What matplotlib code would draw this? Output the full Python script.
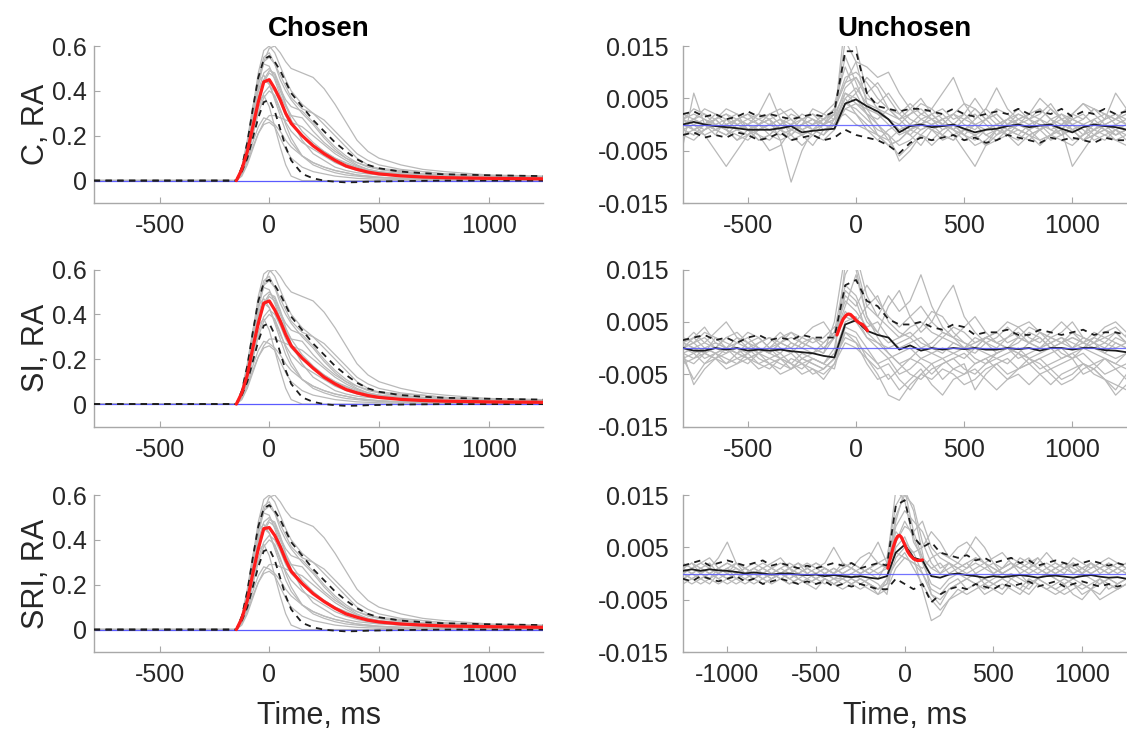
import numpy as np
import matplotlib
matplotlib.use("Agg")
import matplotlib.pyplot as plt

plt.rcParams['font.family'] = ['Liberation Sans', 'DejaVu Sans']
plt.rcParams['axes.unicode_minus'] = False

# ---------------- data ----------------
# Chosen panels: time (ms) and response amplitude
T_CHOSEN = [-800, -150, -125, -100, -75, -50, -25, 0, 25, 50,
            75, 100, 150, 200, 250, 300, 350, 400, 450, 500,
            600, 700, 800, 1000, 1250]

CHOSEN_TRACES = [
    [0, 0, 0.04, 0.13, 0.27, 0.42, 0.53, 0.59, 0.60, 0.57, 0.53, 0.50, 0.48, 0.46, 0.41, 0.34, 0.26, 0.18, 0.13, 0.10, 0.07, 0.05, 0.04, 0.025, 0.02],
    [0, 0, 0.05, 0.16, 0.32, 0.48, 0.58, 0.60, 0.57, 0.51, 0.45, 0.40, 0.34, 0.30, 0.25, 0.20, 0.15, 0.10, 0.07, 0.05, 0.035, 0.03, 0.025, 0.02, 0.015],
    [0, 0, 0.05, 0.15, 0.30, 0.45, 0.55, 0.57, 0.52, 0.45, 0.40, 0.36, 0.30, 0.25, 0.19, 0.14, 0.10, 0.07, 0.05, 0.04, 0.03, 0.025, 0.02, 0.015, 0.01],
    [0, 0, 0.06, 0.17, 0.32, 0.45, 0.52, 0.51, 0.45, 0.38, 0.33, 0.29, 0.22, 0.17, 0.13, 0.10, 0.08, 0.06, 0.045, 0.035, 0.025, 0.02, 0.015, 0.012, 0.01],
    [0, 0, 0.04, 0.13, 0.27, 0.40, 0.48, 0.50, 0.47, 0.41, 0.36, 0.33, 0.31, 0.26, 0.20, 0.15, 0.11, 0.08, 0.06, 0.05, 0.04, 0.03, 0.025, 0.02, 0.015],
    [0, 0, 0.03, 0.11, 0.24, 0.37, 0.45, 0.49, 0.48, 0.42, 0.34, 0.27, 0.18, 0.12, 0.09, 0.06, 0.045, 0.035, 0.03, 0.025, 0.02, 0.015, 0.012, 0.01, 0.008],
    [0, 0, 0.06, 0.18, 0.33, 0.44, 0.47, 0.43, 0.36, 0.29, 0.22, 0.17, 0.11, 0.08, 0.06, 0.045, 0.035, 0.025, 0.02, 0.015, 0.01, 0.008, 0.006, 0.005, 0.004],
    [0, 0, 0.05, 0.15, 0.29, 0.40, 0.45, 0.43, 0.37, 0.31, 0.26, 0.22, 0.17, 0.14, 0.11, 0.08, 0.06, 0.045, 0.035, 0.03, 0.02, 0.015, 0.012, 0.01, 0.008],
    [0, 0, 0.03, 0.10, 0.21, 0.32, 0.39, 0.42, 0.40, 0.35, 0.29, 0.25, 0.20, 0.16, 0.13, 0.10, 0.075, 0.055, 0.04, 0.03, 0.02, 0.015, 0.012, 0.01, 0.008],
    [0, 0, 0.03, 0.10, 0.20, 0.30, 0.37, 0.40, 0.38, 0.32, 0.25, 0.19, 0.11, 0.07, 0.05, 0.035, 0.025, 0.02, 0.015, 0.012, 0.01, 0.008, 0.006, 0.005, 0.004],
    [0, 0, 0.05, 0.15, 0.27, 0.35, 0.38, 0.33, 0.24, 0.15, 0.07, 0.02, 0.0, 0.0, 0.0, 0.0, 0.0, 0.0, 0.0, 0.0, 0.0, 0.0, 0.0, 0.0, 0.0],
    [0, 0, 0.03, 0.09, 0.17, 0.24, 0.28, 0.27, 0.25, 0.22, 0.18, 0.15, 0.11, 0.08, 0.06, 0.045, 0.035, 0.025, 0.02, 0.015, 0.01, 0.008, 0.006, 0.005, 0.004],
    [0, 0, 0.03, 0.08, 0.15, 0.21, 0.25, 0.26, 0.24, 0.19, 0.14, 0.10, 0.06, 0.04, 0.03, 0.02, 0.015, 0.01, 0.008, 0.006, 0.005, 0.004, 0.003, 0.003, 0.002],
    [0, 0, 0.02, 0.07, 0.14, 0.21, 0.26, 0.29, 0.29, 0.28, 0.27, 0.26, 0.24, 0.20, 0.16, 0.12, 0.09, 0.065, 0.05, 0.04, 0.03, 0.02, 0.015, 0.012, 0.01],
    [0, 0, 0.05, 0.16, 0.31, 0.45, 0.53, 0.55, 0.52, 0.47, 0.42, 0.37, 0.32, 0.30, 0.27, 0.22, 0.17, 0.12, 0.09, 0.07, 0.05, 0.04, 0.03, 0.02, 0.015],
    [0, 0, 0.04, 0.12, 0.24, 0.36, 0.44, 0.48, 0.46, 0.40, 0.34, 0.29, 0.28, 0.22, 0.17, 0.13, 0.10, 0.08, 0.065, 0.055, 0.045, 0.04, 0.03, 0.02, 0.015],
]

CHOSEN_UPPER = [0, 0, 0.06, 0.17, 0.32, 0.46, 0.54, 0.555, 0.53, 0.49, 0.44, 0.39, 0.33, 0.27, 0.22, 0.17, 0.13, 0.095, 0.07, 0.055, 0.04, 0.033, 0.028, 0.024, 0.02]
CHOSEN_LOWER = [0, 0, 0.04, 0.10, 0.19, 0.28, 0.35, 0.36, 0.31, 0.23, 0.15, 0.09, 0.03, 0.01, 0.0, -0.005, -0.008, -0.007, -0.005, -0.004, -0.002, -0.001, 0, 0, 0]

# significant-period means (from response onset onwards)
T_CHOSEN_SIG = [-150, -125, -100, -75, -50, -25, 0, 25, 50,
                75, 100, 150, 200, 250, 300, 350, 400, 450, 500,
                600, 700, 800, 1000, 1250]
CHOSEN_MEAN_C   = [0, 0.05, 0.13, 0.24, 0.35, 0.44, 0.45, 0.41, 0.36, 0.30, 0.255, 0.20, 0.155, 0.12, 0.09, 0.065, 0.05, 0.038, 0.03, 0.021, 0.016, 0.013, 0.01, 0.008]
CHOSEN_MEAN_SI  = [0, 0.05, 0.13, 0.25, 0.36, 0.45, 0.46, 0.42, 0.37, 0.31, 0.26, 0.205, 0.16, 0.12, 0.09, 0.065, 0.05, 0.038, 0.03, 0.021, 0.016, 0.013, 0.01, 0.008]
CHOSEN_MEAN_SRI = [0, 0.05, 0.13, 0.25, 0.36, 0.45, 0.455, 0.42, 0.37, 0.31, 0.26, 0.205, 0.16, 0.125, 0.095, 0.07, 0.055, 0.042, 0.034, 0.025, 0.02, 0.016, 0.013, 0.01]

# Unchosen panels: values in units of 1e-3
T_UNCH = list(range(-800, 1251, 50))      # rows 1-2
T_UNCH3 = list(range(-1250, 1251, 50))    # row 3

UNCH1_TRACES = [
    [1, 3, 2, 0, -1, 1, 2, 0, -1, -2, -1, 0, 1, 0, 2, 16, 12, 4, 2, 0, -2, -1, 1, 2, 0, -1, 1, 3, 1, -1, 0, 2, 1, -1, 0, 2, 1, 0, -1, 1, 2, 0],
    [-4, 6, 0, -2, 1, 2, -1, -3, -2, 0, 2, 1, -1, 0, 1, 20, 15, 6, 3, 1, -1, 0, 2, 1, -1, 0, 2, 0, -2, -1, 1, 0, -1, 1, 3, 1, -1, 0, 1, -1, 0, 1],
    [0, -1, -2, -1, 0, 1, -1, -2, -3, -1, 0, 2, 1, 0, 3, 9, 10, 8, 5, 3, 2, 0, -1, 0, 1, -1, -2, 0, 1, 2, 0, -1, -2, -1, 0, 1, -1, -3, -1, 0, -2, -1],
    [-1, 0, -2, -5, -8, -5, -2, 0, 1, -3, -11, -5, -1, -2, 0, 4, 6, 2, -2, -4, -3, -1, 0, -1, -2, -3, -1, -2, -4, -2, 0, -1, -2, -3, -2, 0, -1, -3, -2, -1, -2, -1],
    [2, 1, 0, -1, -2, 0, 1, 2, 6, 1, -2, 0, 3, 2, 4, 11, 6, 9, 7, 3, 1, 2, 4, 3, 1, 2, 0, -1, 1, 3, 2, 0, 1, 3, 1, -1, 2, 4, 2, 0, 1, 2],
    [-2, -1, 0, 1, -1, -3, -2, 0, 1, -1, -3, -2, -4, -1, 0, 6, 5, 2, 0, -3, -6, -4, -2, -3, -1, 0, -2, -4, -3, -1, -2, -3, -1, 0, -2, -3, -4, -2, -1, -2, -3, -2],
    [0, 1, 3, 2, 0, -1, 0, 1, 2, 0, -1, 1, 2, 1, 3, 8, 9, 5, 4, 6, 3, 1, 0, 2, 3, 1, 2, 5, 2, 0, 1, 3, 1, 2, 4, 1, 0, 1, 3, 2, 1, 3],
    [-1, -2, -1, 0, 1, 0, -1, -3, -2, 0, 1, -1, -2, -3, -1, 4, 3, 1, -1, -2, -4, -3, -1, 0, -2, -3, -1, -2, -4, -3, -2, -1, -2, -4, -2, -1, -3, -2, 0, -1, -2, -1],
    [1, 0, -1, 1, 2, 0, -1, 0, 2, 3, 1, -1, 0, 2, 1, 7, 9, 6, 8, 5, 2, 4, 2, 3, 6, 9, 4, 1, 3, 7, 3, 1, 2, 5, 3, 1, 2, 4, 3, 1, 6, 3],
    [0, -1, 0, 2, 1, -1, -2, -1, 0, 1, -1, -2, -1, 0, 2, 13, 8, 3, 0, -2, -7, -5, -2, 0, 1, -1, -3, -2, -1, 0, -1, -2, 0, 1, -1, -2, -1, 0, -2, -3, -1, 0],
    [1, 2, 1, 0, -1, 1, 2, 1, 0, -1, 0, 1, 2, 0, -1, 3, 4, 2, 1, 3, 1, -1, 0, 1, 2, 0, -1, 1, 3, 1, -1, 0, 2, 1, 0, -1, 1, 2, 0, 1, 2, 1],
    [-1, 0, 1, -1, -2, -1, 0, -2, -5, -4, -1, 0, -1, -2, 1, 5, 2, -1, -3, -1, 0, -2, -4, -1, 0, -2, -5, -8, -4, -1, -2, 0, -1, -3, -2, -1, -8, -5, -2, -1, -3, -4],
    [0, 1, 2, 1, 3, 2, 1, 0, 1, 2, 3, 1, 0, 1, 2, 6, 4, 3, 2, 1, 0, 2, 3, 1, 0, 2, 4, 3, 1, 2, 0, 1, 2, 3, 1, 0, 2, 1, 3, 2, 1, 3],
    [-2, -3, -1, 0, -1, -2, -3, -1, 0, -1, -2, -4, -2, 0, 1, 2, 0, -1, -2, -3, -1, -2, 0, -1, -3, -2, -1, 0, -2, -3, -1, -2, -3, -1, 0, -2, -1, -3, -2, 0, -1, -2],
    [0, 1, 0, -1, 0, 1, 0, -1, 0, 1, 0, -1, 0, 1, 3, 8, 12, 11, 9, 10, 6, 3, 1, 0, 1, 2, 1, 0, -1, 0, 1, 2, 1, 0, -1, 0, 1, 0, -1, 0, 1, 0],
    [1, -1, 0, 1, 2, 1, 0, 2, 1, -1, 0, -2, -1, 1, 0, 5, 7, 4, 3, 2, 1, 3, 5, 2, 0, -1, 1, 2, 0, -2, -1, 1, 0, -1, 1, 2, 0, -2, 1, 2, 0, -1],
    [-1, -2, 0, 1, -1, -3, -1, 0, -2, -3, -2, 0, 1, -1, 0, 3, 2, 0, -2, -4, -3, -1, -2, -4, -2, 0, -2, -3, -1, 0, -2, -4, -2, -1, -3, -2, 0, -1, -3, -2, -1, -3],
]
UNCH1_UPPER = [2, 2.5, 1.5, 2, 1, 1.5, 2.5, 1.5, 2, 1.5, 1, 1.5, 2, 1.5, 2.5, 14, 14, 6, 3.5, 3, 2.5, 3, 3, 2.5, 2, 3, 2, 1.5, 2, 2.5, 2, 3, 2, 2.5, 2, 3, 1.5, 2.5, 2, 3, 2, 2.5]
UNCH1_LOWER = [-2, -1.5, -2.5, -2, -2.5, -1.5, -2, -3, -2.5, -1.5, -3, -2.5, -2, -3, -2.5, -1, -2, -2.5, -3, -4, -5.5, -3.5, -2.5, -3, -2.5, -2, -3, -2.5, -3.5, -3, -2, -2.5, -3, -3.5, -2.5, -3, -2.5, -3, -3.5, -2.5, -3, -3]
UNCH1_MEAN = [0, 0.5, 0, -0.3, -0.5, -0.7, -1, -1, -1, -0.7, -0.3, -1.5, -1.2, -1, -0.8, 4, 4.8, 3.5, 2.5, 1, -1.5, -0.3, 0, -0.5, -0.3, 0, -0.8, -1.5, -1, -0.8, -0.3, 0, -0.5, -0.2, 0, -0.8, -1.5, -0.5, 0, -0.3, -0.5, -1]

UNCH2_TRACES = [
    [1, 0, -1, 2, 1, 0, -1, 1, 2, 0, -1, 1, 0, -1, 5, 18, 16, 8, 6, 10, 7, 9, 14, 8, 4, 2, 1, 0, 2, 1, 0, -1, 1, 2, 0, 1, 2, 1, 0, -1, 1, 0],
    [-2, -6, -3, -1, 0, -2, -3, -1, -2, -3, -4, -2, -3, -4, -2, 16, 15, 6, 2, -1, -3, -2, 0, -1, -2, -1, 0, -2, -3, -1, 0, -2, -1, 0, 1, -1, -2, 0, -1, -2, -3, -1],
    [0, 2, 4, 1, 0, 2, 1, -1, 0, 2, 3, 1, 2, 0, 2, 12, 10, 5, 3, 8, 11, 6, 3, 5, 9, 12, 6, 3, 1, 2, 4, 2, 1, 3, 2, 1, 0, 2, 1, 3, 4, 2],
    [-1, -2, 0, -1, -3, -2, -1, -3, -4, -2, -3, -5, -4, -6, -3, 3, 2, -2, -5, -9, -10, -7, -5, -6, -4, -5, -7, -6, -4, -3, -5, -4, -3, -5, -7, -5, -4, -3, -5, -6, -8, -5],
    [1, 3, 1, 0, 2, 1, 3, 2, 0, 1, 3, 2, 4, 5, 2, 8, 14, 6, 3, 1, 2, 4, 5, 3, 2, 4, 3, 1, 2, 3, 1, 2, 4, 3, 2, 1, 3, 2, 1, 2, 3, 1],
    [-1, 0, -2, -1, 0, -1, -2, -3, -2, -1, -3, -4, -2, -3, -4, 4, 3, 0, -3, -6, -4, -2, -3, -5, -3, -2, -4, -5, -3, -2, -3, -1, -2, -4, -3, -2, -1, -3, -4, -2, -3, -4],
    [0, 1, 2, 0, -1, 1, 0, -1, 1, 3, 1, 0, -1, 1, 3, 9, 7, 4, 5, 2, 0, 1, 2, 0, -1, 1, 0, -1, 1, 0, 2, 4, 5, 3, 1, 2, 0, 1, 3, 2, 1, 0],
    [-3, -2, -1, -2, -3, -1, 0, -2, -3, -4, -2, -3, -5, -4, -2, 2, 1, -1, -3, -2, -5, -4, -2, -3, -6, -4, -3, -8, -5, -3, -2, -4, -3, -2, -4, -3, -2, -5, -4, -6, -9, -7],
    [1, 0, 1, 3, 5, 2, 0, 1, 2, 1, 0, 2, 1, 2, 4, 6, 5, 8, 10, 5, 3, 2, 4, 7, 6, 3, 1, 0, 2, 3, 5, 4, 2, 1, 3, 5, 3, 1, 2, 4, 5, 3],
    [-2, -1, 0, -1, -2, -3, -1, 0, -1, -2, -4, -3, -2, -3, -1, 5, 6, 2, 0, -2, -1, 0, -2, -1, 0, -1, -2, 0, -1, -2, -1, 0, -2, -1, 0, -2, -1, 0, 1, -1, -2, -1],
    [0, -1, -3, -2, 0, -1, -2, -1, 0, -2, -3, -1, -2, -3, 0, 11, 9, 3, 1, -1, -3, -5, -6, -4, -3, -2, -1, -3, -2, -1, 0, -1, -3, -2, -1, 0, -2, -1, -3, -2, -4, -3],
    [1, 2, 0, 1, 0, -1, 1, 2, 0, -1, 1, 0, 2, 1, 3, 14, 18, 10, 6, 4, 2, 3, 1, 0, 2, 1, 0, 2, 1, -1, 0, 2, 1, 0, 1, 2, 1, 0, 2, 1, 0, 1],
    [-1, -7, -4, -2, -1, 0, -2, -1, -3, -2, -1, -3, -4, -5, -3, 1, 0, -2, -4, -3, -6, -8, -5, -3, -2, -4, -5, -3, -2, -4, -6, -4, -2, -3, -5, -7, -6, -4, -3, -5, -4, -6],
    [0, 1, -1, 0, 2, 3, 1, 0, -1, 1, 2, 1, 0, -1, 2, 7, 5, 2, 1, 0, 1, 2, 0, 1, 3, 2, 0, 1, 2, 1, 0, 1, 3, 2, 0, 1, 2, 1, 0, 1, 3, 1],
    [2, 1, 3, 2, 0, 1, 2, 0, -1, 1, 0, -2, -1, 0, 2, 10, 8, 12, 9, 6, 4, 6, 8, 5, 3, 2, 4, 6, 3, 1, 2, 3, 1, 0, 2, 3, 5, 2, 1, 0, 2, 1],
    [-2, -3, -1, -2, -4, -3, -2, -4, -3, -5, -4, -2, -3, -4, -2, 3, 1, -3, -6, -5, -8, -6, -4, -7, -9, -6, -5, -4, -6, -8, -6, -5, -7, -5, -4, -6, -5, -3, -4, -6, -7, -8],
]
UNCH2_UPPER = [1.5, 2, 2.5, 1.5, 2, 1, 2, 2.5, 1.5, 2, 1.5, 2.5, 2, 2, 2, 12, 13, 9, 8, 5.5, 4.5, 4.5, 5, 4, 3.5, 4.5, 4, 2.5, 3, 3, 3.5, 2.5, 2.5, 3.5, 3, 2.5, 3, 3.5, 2.5, 3, 3, 2.5]
UNCH2_MEAN = [0, -0.5, -0.5, 0, -0.3, 0, -0.5, -0.3, -0.5, -0.3, -0.6, -0.8, -1, -1.5, -1.8, 4.5, 5.3, 3.3, 2.5, 2, -0.3, 0.5, -0.5, 0, -0.3, 0, -0.2, 0, -0.3, -0.3, 0, -0.2, 0, -0.5, 0, 0, -0.3, 0, 0, -0.4, -0.5, -0.8]
UNCH2_SIG_T = [-88, -75, -60, -45, -35, -25, -10, 0, 15, 30, 45, 53]
UNCH2_SIG = [2.5, 4, 5.5, 6.3, 6.5, 6.4, 5.8, 5.3, 4.8, 4.5, 3.8, 3.3]

UNCH3_TRACES = [
    [1, 2, 0, 1, 3, 6, 2, 0, 1, 2, 1, 0, 1, 2, 1, 0, 1, 0, 1, 2, 1, 0, -1, 2, 16, 14, 6, 3, 1, 0, 2, 1, 0, 1, 2, 1, 0, 1, 2, 1, 0, 1, 2, 1, 0, 1, 2, 1, 0, 1, 0],
    [-1, 0, -1, -2, 0, -1, -2, -1, 0, -1, -2, -1, 0, -1, -2, -1, 0, -1, -2, -1, -2, -3, -4, -1, 10, 16, 12, 4, -4, -6, -3, -2, -1, -2, -3, -2, -1, -2, -3, -1, -2, -3, -2, -1, -2, -3, -2, -1, -3, -2, -1],
    [2, 1, 2, 3, 1, 0, 2, 1, 0, 1, 2, 3, 1, 0, 1, 2, 1, 0, 2, 1, 3, 4, 2, 1, 8, 6, 4, 5, 8, 6, 3, 2, 4, 7, 5, 2, 1, 3, 2, 1, 2, 4, 2, 1, 3, 2, 1, 2, 3, 2, 1],
    [0, -1, -2, -1, 0, 1, -1, -2, -1, 0, -1, 0, 1, -1, -2, -1, 0, -1, -1, -2, -3, -2, -3, -2, 5, 7, 3, -3, -9, -8, -5, -4, -3, -2, -4, -3, -2, -3, -4, -2, -1, -2, -3, -4, -3, -2, -3, -4, -2, -3, -2],
    [1, 0, 1, 2, 0, 1, 2, 1, 0, 1, 0, 1, 2, 1, 0, 1, 2, 5, 2, 1, 0, 1, 0, 1, 6, 9, 8, 10, 5, 3, 2, 1, 2, 3, 2, 1, 0, 1, 2, 3, 1, 0, 1, 2, 1, 0, 2, 1, 0, 1, 2],
    [-2, -1, 0, -1, -2, -1, 0, -1, -2, -1, 0, -1, -2, -1, -2, -3, -1, -2, -1, -2, -1, -2, -3, -1, 2, 4, 1, -2, -5, -7, -5, -3, -4, -3, -2, -3, -4, -2, -3, -4, -2, -3, -4, -3, -2, -4, -3, -5, -4, -3, -2],
    [0, 1, 0, -1, 1, 2, 1, 0, 1, 0, -1, 0, 1, 2, 0, -1, 0, 1, 0, 1, 0, 1, 2, 3, 13, 16, 8, 3, 1, 2, 0, 1, 2, 0, 1, 2, 0, 1, 3, 2, 1, 0, 1, 2, 0, 1, 2, 0, 1, 2, 1],
    [1, 2, 1, 0, 1, 2, 1, 0, -1, 0, 1, 0, -1, 0, 1, 2, 1, 0, -1, 0, 1, 3, 6, 2, 4, 3, 2, 1, 3, 4, 3, 5, 6, 4, 2, 3, 4, 2, 1, 2, 3, 1, 0, 1, 2, 1, 0, 1, 2, 1, 0],
    [-1, 0, 1, 0, -1, 0, 1, 0, -1, -2, -1, 0, -1, -2, -1, 0, -1, -2, -3, -2, -1, -2, -4, -3, 1, 3, 2, 0, -3, -4, -2, -1, -3, -2, -1, -2, -3, -1, -2, -3, -1, -2, -3, -2, -1, -2, -3, -1, -2, -3, -2],
    [0, 1, 2, 1, 0, 1, 0, 1, 2, 1, 0, 1, 0, 1, 2, 1, 0, 1, 0, 1, 0, 1, 2, 1, 11, 15, 13, 6, 2, 0, 1, 2, 1, 3, 2, 0, 1, 2, 1, 0, 1, 2, 1, 0, 2, 1, 0, 1, 2, 1, 2],
    [-1, -2, -1, 0, -1, -2, -1, 0, -1, -2, -1, 0, -1, 0, -1, -2, -1, -2, -1, 0, -1, -2, -3, -2, 3, 5, 4, 0, -4, -5, -3, -2, -1, -2, -1, -2, -1, 0, -1, -2, -1, 0, -1, -2, -4, -5, -3, -2, -1, -2, -1],
    [1, 0, -1, 0, 1, 0, -1, 0, 1, 0, 1, 2, 1, 0, 1, 0, 1, 0, 1, 2, 1, 0, 1, 2, 9, 12, 10, 8, 4, 1, 2, 0, 1, 2, 1, 0, 1, 2, 0, 1, 3, 1, 0, 1, 2, 0, 1, 2, 1, 0, 1],
    [0, -1, 0, 1, 0, -1, 0, 1, 0, -1, 0, -1, -2, -1, 0, -1, -2, -1, 0, -1, -2, -1, -2, -4, 6, 10, 7, 2, -2, -3, -1, 0, -1, 0, -2, -1, 0, -1, 0, -2, -1, 0, -1, -2, -1, 0, -1, -2, -1, -2, -1],
]
UNCH3_UPPER = [1.5, 2, 2.5, 1.5, 2, 2.5, 2, 1.5, 2, 2.5, 1.5, 2, 1.5, 1, 1.5, 1, 1.5, 2, 1.5, 2, 1, 1.5, 2, 1.5, 13, 14, 7, 5, 6, 4, 3.5, 3, 3.5, 2.5, 3, 2, 2.5, 3, 2, 2.5, 1.5, 2, 2.5, 2, 1.5, 2, 2.5, 2, 1.5, 2, 1.5]
UNCH3_LOWER = [-1, -1.5, -0.5, -1, -1.5, -1, -0.5, -1.5, -1, -2, -1.5, -1, -1.5, -2, -1.5, -2, -1.5, -2.5, -2, -2.5, -2, -2.5, -3, -3, -1, -2, -3, -2, -5.5, -4, -3, -2.5, -3, -2, -2.5, -3, -2, -2.5, -2, -1.5, -2.5, -2, -1.5, -2.5, -2, -1.5, -2, -2.5, -2, -2.5, -2]
UNCH3_MEAN = [0.5, 0.8, 0.5, 0.8, 0.6, 0.5, 0.3, 0, 0.2, 0, -0.2, 0, 0, -0.2, -0.3, -0.2, -0.5, -0.3, -0.5, -0.7, -0.5, -0.8, -1, -0.5, 4, 5.5, 3, 2.5, -0.5, -0.8, -0.2, 0, -0.3, -0.5, -0.8, -0.5, -0.7, -0.5, -0.3, -0.5, -0.8, -0.5, -0.4, -0.6, -0.8, -0.5, -0.3, -0.6, -0.8, -0.7, -1]
UNCH3_SIG_T = [-95, -80, -65, -50, -40, -30, -20, -10, 0, 15, 30, 50, 70, 90, 100]
UNCH3_SIG = [1, 3, 5, 6.5, 7.1, 7.3, 7, 6.3, 5.5, 4.3, 3.5, 2.8, 2.5, 2.5, 2.6]

ROW_LABELS = ['C, RA', 'SI, RA', 'SRI, RA']
COL_TITLES = ['Chosen', 'Unchosen']
MILLI = 1e-3

# ---------------- style ----------------
GRAY = '#b9b9b9'
DASH = '#1e1e1e'
RED = '#ff1c1c'
BLUE = '#5a5aff'
AX_COL = '#a8a8a8'
TXT = '#262626'

fig = plt.figure(figsize=(11.27, 7.34), dpi=100)

LEFT_X, LEFT_W = 0.0832, 0.399
RIGHT_X, RIGHT_W = 0.606, 0.3935
ROW_B = [0.7234, 0.4189, 0.1117]
H = 0.2139


def style(ax, xlim, ylim, xticks, yticks, ylabels, ypad):
    ax.set_xlim(*xlim)
    ax.set_ylim(*ylim)
    for s in ('top', 'right'):
        ax.spines[s].set_visible(False)
    for s in ('left', 'bottom'):
        ax.spines[s].set_color(AX_COL)
        ax.spines[s].set_linewidth(1.0)
    ax.set_xticks(xticks)
    ax.set_xticklabels([str(v) for v in xticks])
    ax.set_yticks(yticks)
    ax.set_yticklabels(ylabels)
    ax.tick_params(direction='in', length=4, width=0.8, color=AX_COL,
                   labelsize=18, labelcolor=TXT)
    ax.tick_params(axis='x', pad=8)
    ax.tick_params(axis='y', pad=ypad)


def dashed(ax, t, v):
    ax.plot(t, v, color=DASH, lw=1.3, dashes=(3.5, 3.0), zorder=3)


chosen_means = [CHOSEN_MEAN_C, CHOSEN_MEAN_SI, CHOSEN_MEAN_SRI]
for r in range(3):
    ax = fig.add_axes([LEFT_X, ROW_B[r], LEFT_W, H])
    for tr in CHOSEN_TRACES:
        ax.plot(T_CHOSEN, tr, color=GRAY, lw=0.9, zorder=1)
    ax.axhline(0, color=BLUE, lw=0.9, zorder=2)
    dashed(ax, T_CHOSEN, CHOSEN_UPPER)
    dashed(ax, T_CHOSEN, CHOSEN_LOWER)
    ax.plot(T_CHOSEN_SIG, chosen_means[r], color=RED, lw=2.3, zorder=4,
            solid_capstyle='round')
    style(ax, (-800, 1250), (-0.1, 0.6), [-500, 0, 500, 1000],
          [0, 0.2, 0.4, 0.6], ['0', '0.2', '0.4', '0.6'], 5)
    ax.set_ylabel(ROW_LABELS[r], fontsize=22, color=TXT)
    ax.yaxis.set_label_coords(-0.095, 0.5)
    if r == 0:
        ax.set_title(COL_TITLES[0], fontsize=20, fontweight='bold', pad=7)
    if r == 2:
        ax.set_xlabel('Time, ms', fontsize=22, color=TXT)
        ax.xaxis.set_label_coords(0.5, -0.31)

unch = [
    (T_UNCH, UNCH1_TRACES, UNCH1_UPPER, UNCH1_LOWER, UNCH1_MEAN, None, None),
    (T_UNCH, UNCH2_TRACES, UNCH2_UPPER, None, UNCH2_MEAN, UNCH2_SIG_T, UNCH2_SIG),
    (T_UNCH3, UNCH3_TRACES, UNCH3_UPPER, UNCH3_LOWER, UNCH3_MEAN, UNCH3_SIG_T, UNCH3_SIG),
]
for r, (t, traces, up, lo, mean, sig_t, sig) in enumerate(unch):
    ax = fig.add_axes([RIGHT_X, ROW_B[r], RIGHT_W, H])
    for tr in traces:
        ax.plot(t, np.asarray(tr) * MILLI, color=GRAY, lw=0.9, zorder=1)
    dashed(ax, t, np.asarray(up) * MILLI)
    if lo is not None:
        dashed(ax, t, np.asarray(lo) * MILLI)
    ax.plot(t, np.asarray(mean) * MILLI, color='#1a1a1a', lw=1.3, zorder=4)
    ax.axhline(0, color=BLUE, lw=0.9, alpha=0.85, zorder=5)
    if sig is not None:
        ax.plot(sig_t, np.asarray(sig) * MILLI, color=RED, lw=2.3, zorder=6,
                solid_capstyle='round')
    if r == 2:
        xl, xt = (-1250, 1250), [-1000, -500, 0, 500, 1000]
    else:
        xl, xt = (-800, 1250), [-500, 0, 500, 1000]
    style(ax, xl, (-0.015, 0.015), xt, [-0.015, -0.005, 0.005, 0.015],
          ['-0.015', '-0.005', '0.005', '0.015'], 10)
    if r == 0:
        ax.set_title(COL_TITLES[1], fontsize=20, fontweight='bold', pad=7)
    if r == 2:
        ax.set_xlabel('Time, ms', fontsize=22, color=TXT)
        ax.xaxis.set_label_coords(0.5, -0.31)

fig.savefig('out.png', dpi=100)
